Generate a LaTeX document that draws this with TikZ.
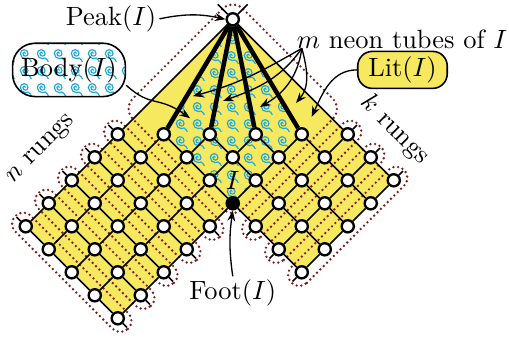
\documentclass[tikz,border=0pt]{standalone}
\usepackage{amsmath}
\usetikzlibrary{arrows.meta, positioning, patterns.meta}

\definecolor{lityellow}{HTML}{F6E85F}
\definecolor{curlblue}{HTML}{1BA9E0}
\definecolor{rungred}{HTML}{7D1E1E}

% swirl fill for the body
\tikzdeclarepattern{
  name=curls,
  type=colored,
  bottom left={(0pt,0pt)},
  top right={(6.6pt,6.6pt)},
  tile size={(6.6pt,6.6pt)},
  code={
    \tikzset{x=1pt,y=1pt}
    \path[draw=curlblue, line width=0.45pt]
      (3.3,3.3) arc[start angle=0, end angle=180, radius=0.5]
      arc[start angle=180, end angle=360, radius=1.0]
      arc[start angle=0, end angle=180, radius=1.5]
      arc[start angle=180, end angle=300, radius=2.0]
      .. controls (4.9,1.0) and (5.6,0.6) .. (5.6,0);
  }
}

\begin{document}
\begin{tikzpicture}[
  x=0.306cm, y=0.306cm,
  >={Stealth[length=4pt, width=3pt]},
  vtx/.style={circle, draw, line width=0.9pt, fill=white,
    inner sep=0pt, minimum size=4.6pt},
  lnk/.style={line width=0.6pt},
  tube/.style={line width=1.7pt},
  rung/.style={draw=rungred, line width=1pt, line cap=round,
    dash pattern=on 0pt off 1.8pt, rounded corners=4.1pt},
  bubble/.style={draw, line width=0.6pt, align=center, inner sep=2pt},
  ptr/.style={->, line width=0.5pt},
]

\useasboundingbox (-10.12,-5.90) rectangle (12.01,8.84);

% =============================================
% Lattice, drawn in the (s,t) frame
% =============================================
\begin{scope}[x={(0.306cm,0.306cm)}, y={(-0.306cm,0.306cm)}]

% yellow region and body
\fill[lityellow] (4,4) -- (-5,4) -- (-5,0) -- (0,0) -- (0,-3) -- (4,-3) -- cycle;
\fill[pattern=curls] (4,4) -- (0,3) -- (0,0) -- (3,0) -- cycle;

% rungs (dotted)
\foreach \s in {-5,...,-1}
  \draw[rung] (\s-0.34,-0.45) -- (\s+0.34,-0.45) -- (\s+0.34,4.45)
    -- (\s-0.34,4.45) -- cycle;
\foreach \t in {-3,...,-1}
  \draw[rung] (-0.45,\t-0.34) -- (4.45,\t-0.34) -- (4.45,\t+0.34)
    -- (-0.45,\t+0.34) -- cycle;

% the interval I
\draw[rung, rounded corners=5.5pt] (-0.34,-0.34) -- (4.45,-0.34)
  -- (4.45,4.45) -- (-0.34,4.45) -- cycle;

% vertices
\foreach \s in {-5,...,-1}
  \foreach \t in {0,...,4}
    \node[vtx] (v\s t\t) at (\s,\t) {};
\foreach \s in {0,...,4}
  \foreach \t in {-3,...,-1}
    \node[vtx] (v\s t\t) at (\s,\t) {};
\foreach \s/\t in {0/1,0/2,0/3,1/0,1/1,1/2,2/0,2/1,3/0}
  \node[vtx] (v\s t\t) at (\s,\t) {};

\node[vtx, fill=black, label={[label distance=-1pt]above:$I$}] (v0t0) at (0,0) {};
\node[vtx] (peak) at (4,4) {};

% edges along t
\foreach \s in {-5,...,-1}
  \foreach \t in {0,...,3} {
    \pgfmathtruncatemacro\u{\t+1}
    \draw[lnk] (v\s t\t) -- (v\s t\u);
  }
\foreach \s in {0,...,4} {
  \pgfmathtruncatemacro\e{2-\s}
  \foreach \t in {-3,...,\e} {
    \pgfmathtruncatemacro\u{\t+1}
    \draw[lnk] (v\s t\t) -- (v\s t\u);
  }
}

% edges along s
\foreach \t in {0,...,4} {
  \pgfmathtruncatemacro\e{2-\t}
  \foreach \s in {-5,...,\e} {
    \pgfmathtruncatemacro\u{\s+1}
    \draw[lnk] (v\s t\t) -- (v\u t\t);
  }
}
\foreach \t in {-3,...,-1}
  \foreach \s in {0,...,3} {
    \pgfmathtruncatemacro\u{\s+1}
    \draw[lnk] (v\s t\t) -- (v\u t\t);
  }

% loose ends of the rungs
\foreach \s in {-5,...,-1} {
  \draw[lnk] (v\s t4) -- +(0,0.4);
  \draw[lnk] (v\s t0) -- +(0,-0.4);
}
\foreach \t in {-3,...,-1} {
  \draw[lnk] (v4t\t) -- +(0.4,0);
  \draw[lnk] (v0t\t) -- +(-0.4,0);
}
\draw[lnk] (peak) -- +(0.65,0);
\draw[lnk] (peak) -- +(0,0.65);

% sides of the cone and neon tubes
\draw[lnk] (peak) -- (v-1t4);
\draw[lnk] (peak) -- (v4t-1);
\foreach \s/\t in {0/3,1/2,2/1,3/0}
  \draw[tube] (peak) -- (v\s t\t);

\end{scope}

% =============================================
% Labels
% =============================================
\node[inner sep=1pt] (peaklbl) at (-5.29,8.02) {Peak$(I)$};
\draw[ptr] (peaklbl.east) to[bend left=12] (peak.west);

\node[inner sep=1pt] (footlbl) at (0,-3.89) {Foot$(I)$};
\draw[ptr] (footlbl.north) to[bend left=8] (v0t0.south);

\node[rotate=45, inner sep=1pt] (nlbl) at (-8.30,2.33) {$n$ rungs};
\node[rotate=-45, inner sep=1pt] (klbl) at (7.05,3.20) {$k$ rungs};

% Body(I)
\node[bubble, preaction={fill=white}, pattern=curls, rounded corners=8.5pt,
      minimum width=1.5cm, minimum height=0.71cm]
  (bodyb) at (-7.12,5.80) {Body$(I)$};
\coordinate (bodytip) at (-1.86,3.70);
\draw[ptr] (bodyb.-15) .. controls +(1.1,-1.0) and +(-1.4,1.0) .. (bodytip);

% Lit(I)
\node[bubble, fill=lityellow, rounded corners=5.5pt,
      minimum width=1.19cm, minimum height=0.40cm]
  (litb) at (7.38,5.80) {Lit$(I)$};
\coordinate (littip) at (3.43,3.76);
\draw[ptr] (litb.west) to[out=180, in=65] (littip);

% m neon tubes
\node (mlbl) at (7.36,7.13) {$m$ neon tubes of $I$};
\coordinate (mfork) at ([xshift=5.4pt, yshift=3.7pt]mlbl.south west);
\coordinate (tube1) at (-1.73,4.66);
\coordinate (tube2) at (-0.42,4.45);
\coordinate (tube3) at (1.19,4.19);
\coordinate (tube4) at (2.75,4.36);
\draw[ptr] (mfork) to[out=210, in=15] (tube1);
\draw[ptr] (mfork) to[out=235, in=20] (tube2);
\draw[ptr] (mfork) to[out=262, in=30] (tube3);
\draw[ptr] (mfork) to[out=-75, in=50] (tube4);

\end{tikzpicture}
\end{document}
